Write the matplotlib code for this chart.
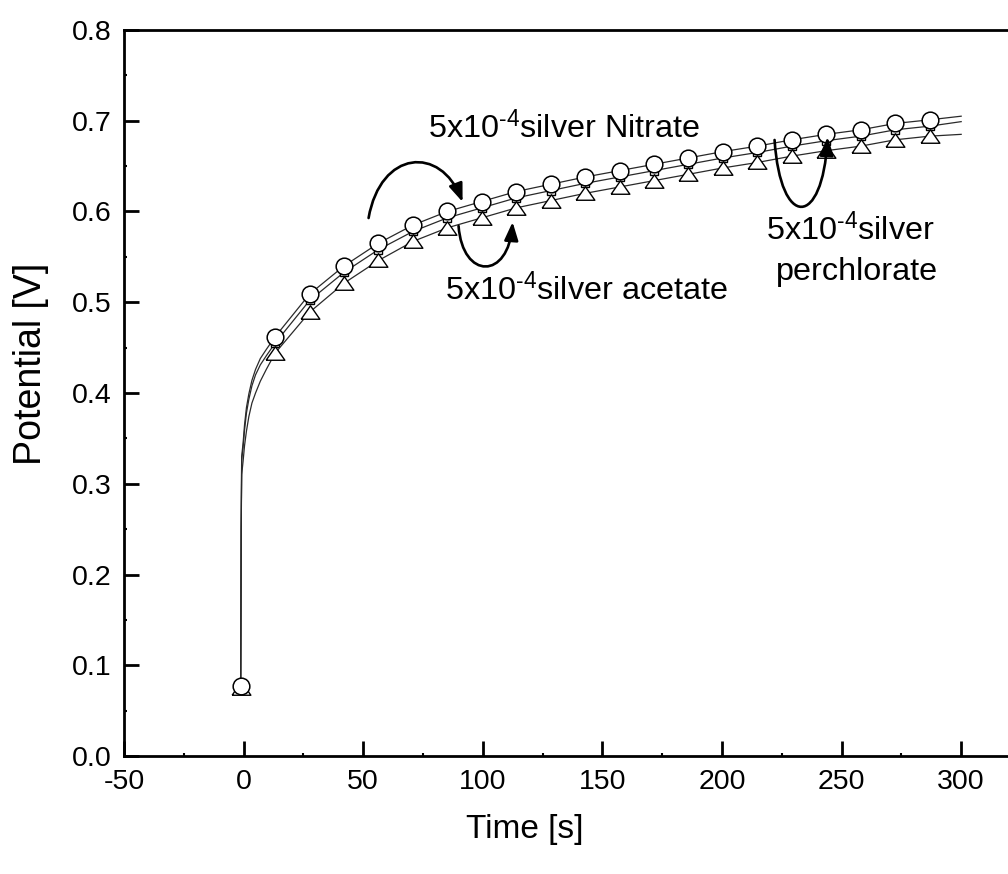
import matplotlib
matplotlib.use("Agg")
import matplotlib.pyplot as plt
from matplotlib.path import Path
from matplotlib.patches import FancyArrowPatch
from matplotlib.ticker import MultipleLocator, FormatStrFormatter

plt.rcParams['font.family'] = ['Liberation Sans', 'DejaVu Sans']
plt.rcParams['mathtext.fontset'] = 'custom'
plt.rcParams['mathtext.rm'] = 'Liberation Sans'
plt.rcParams['mathtext.it'] = 'Liberation Sans:italic'
plt.rcParams['mathtext.default'] = 'regular'
plt.rcParams['axes.unicode_minus'] = False

# Time axis (s): dense samples across the initial jump, then one sample per marker
time_s = [-1.2, -1.0, -0.8, -0.2, 0.4, 1.2, 2.2, 3.5, 5.0, 7.0, 9.5,
          13.2, 27.6, 42.0, 56.4, 70.8, 85.2, 99.6, 114.0, 128.4, 142.8,
          157.2, 171.6, 186.0, 200.4, 214.8, 229.2, 243.6, 258.0, 272.4,
          286.8, 300.0]

# Potential (V) of the three silver salt solutions
nitrate = [0.077, 0.25, 0.330, 0.345, 0.365, 0.384, 0.399, 0.414, 0.426,
           0.438, 0.448, 0.462, 0.509, 0.540, 0.565, 0.585, 0.600, 0.611,
           0.622, 0.630, 0.638, 0.645, 0.652, 0.659, 0.666, 0.672, 0.679,
           0.685, 0.690, 0.697, 0.701, 0.705]
perchlorate = [0.077, 0.25, 0.326, 0.340, 0.359, 0.378, 0.393, 0.408, 0.420,
               0.431, 0.441, 0.455, 0.502, 0.533, 0.558, 0.578, 0.593, 0.604,
               0.615, 0.623, 0.631, 0.638, 0.645, 0.652, 0.659, 0.665, 0.672,
               0.678, 0.683, 0.690, 0.694, 0.699]
acetate = [0.075, 0.25, 0.310, 0.325, 0.342, 0.358, 0.374, 0.389, 0.400,
           0.413, 0.426, 0.444, 0.489, 0.521, 0.546, 0.567, 0.582, 0.593,
           0.604, 0.612, 0.620, 0.627, 0.634, 0.641, 0.648, 0.654, 0.661,
           0.667, 0.672, 0.679, 0.683, 0.685]

# samples that carry a symbol
marker_idx = [0] + list(range(11, 31))

fig = plt.figure(figsize=(10.08, 8.74), dpi=100)
ax = fig.add_axes([0.123, 0.135, 0.878, 0.8307])

line_kw = dict(color='#2a2a2a', lw=0.9, markevery=marker_idx,
               markerfacecolor='white', markeredgecolor='black')
ax.plot(time_s, perchlorate, marker='s', ms=5.5, mew=1.0, zorder=2, **line_kw)
tri = [(-1, -0.72), (1, -0.72), (0, 0.72), (-1, -0.72)]
ax.plot(time_s, acetate, marker=tri, ms=13.5, mew=1.0, zorder=3, **line_kw)
ax.plot(time_s, nitrate, marker='o', ms=12, mew=1.1, zorder=4, **line_kw)

ax.set_xlim(-50, 320)
ax.set_ylim(0.0, 0.8)
ax.xaxis.set_major_locator(MultipleLocator(50))
ax.xaxis.set_minor_locator(MultipleLocator(25))
ax.yaxis.set_major_locator(MultipleLocator(0.1))
ax.yaxis.set_minor_locator(MultipleLocator(0.05))
ax.yaxis.set_major_formatter(FormatStrFormatter('%.1f'))

for side in ('left', 'bottom', 'top'):
    ax.spines[side].set_linewidth(2.0)
ax.spines['right'].set_visible(False)
ax.tick_params(which='major', direction='in', length=11, width=2.0,
               labelsize=20.5, pad=9)
ax.tick_params(which='minor', direction='in', length=2.5, width=1.5)
ax.tick_params(top=False, right=False, which='both')

ax.set_xlabel('Time [s]', fontsize=24)
ax.set_ylabel('Potential [V]', fontsize=27)
ax.xaxis.set_label_coords(0.453, -0.1006)
ax.xaxis.label.set_va('center')
ax.yaxis.set_label_coords(-0.105, 0.54)
ax.yaxis.label.set_va('center')

# curved annotation arrows (cubic Bezier paths)
arrow_paths = [
    [(52.26, 0.5928), (57.27, 0.6678), (82.36, 0.6733), (91.56, 0.6105)],
    [(89.88, 0.5840), (91.56, 0.5245), (110.79, 0.5245), (112.46, 0.5884)],
    [(221.99, 0.6788), (224.5, 0.5796), (242.06, 0.5818), (244.15, 0.6821)],
]
for pts in arrow_paths:
    path = Path(pts, [Path.MOVETO, Path.CURVE4, Path.CURVE4, Path.CURVE4])
    arr = FancyArrowPatch(path=path, transform=ax.transData,
                          arrowstyle='-|>,head_length=1.1,head_width=0.42',
                          mutation_scale=10, lw=1.9, color='black', zorder=6)
    ax.add_patch(arr)

txt_kw = dict(fontsize=23.3, ha='left', va='baseline', zorder=7)
sup = r'$^{\text{-4}}$'
ax.text(77.3, 0.680, '5x10' + sup + 'silver Nitrate', **txt_kw)
ax.text(84.4, 0.5025, '5x10' + sup + 'silver acetate', **txt_kw)
ax.text(218.6, 0.5686, '5x10' + sup + 'silver', **txt_kw)
ax.text(222.4, 0.5245, 'perchlorate', **txt_kw)

fig.savefig('out.png', dpi=100)
